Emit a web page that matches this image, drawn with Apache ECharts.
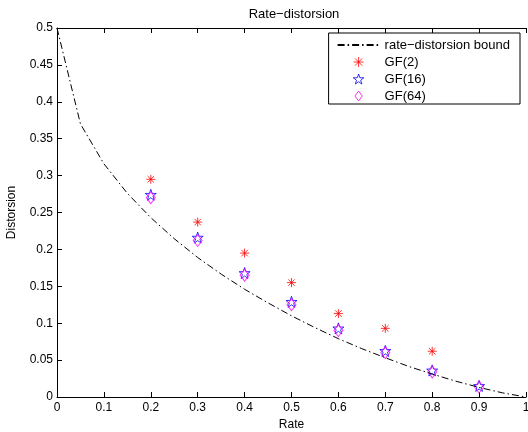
<!DOCTYPE html>
<html>
<head>
<meta charset="utf-8">
<script src="https://cdn.jsdelivr.net/npm/echarts@6/dist/echarts.min.js"></script>
<style>
html,body{margin:0;padding:0;background:#fff;}
#main{width:528px;height:432px;}
</style>
</head>
<body>
<div id="main"></div>
<script>
// rate-distorsion bound
var boundRate = [0, 0.05, 0.1, 0.15, 0.2, 0.25, 0.3, 0.35, 0.4, 0.45, 0.5, 0.55, 0.6, 0.65, 0.7, 0.75, 0.8, 0.85, 0.9, 0.95, 1];
var boundDist = [0.5, 0.37, 0.316, 0.276, 0.243, 0.2145, 0.189, 0.1665, 0.146, 0.1275, 0.11, 0.094, 0.079, 0.0655, 0.0532, 0.0414, 0.0311, 0.0215, 0.013, 0.0056, 0];

var gf2Rate = [0.2, 0.3, 0.4, 0.5, 0.6, 0.7, 0.8];
var gf2Dist = [0.295, 0.237, 0.195, 0.155, 0.113, 0.093, 0.062];
var gf16Rate = [0.2, 0.3, 0.4, 0.5, 0.6, 0.7, 0.8, 0.9];
var gf16Dist = [0.274, 0.216, 0.168, 0.129, 0.093, 0.0625, 0.036, 0.015];
var gf64Rate = [0.2, 0.3, 0.4, 0.5, 0.6, 0.7, 0.8, 0.9];
var gf64Dist = [0.270, 0.212, 0.165, 0.125, 0.090, 0.060, 0.034, 0.0135];

var xTicks = ['0', '0.1', '0.2', '0.3', '0.4', '0.5', '0.6', '0.7', '0.8', '0.9', '1'];
var yTicks = ['0', '0.05', '0.1', '0.15', '0.2', '0.25', '0.3', '0.35', '0.4', '0.45', '0.5'];

function pairs(xs, ys) {
    var out = [];
    for (var i = 0; i < xs.length; i++) {
        out.push([xs[i], ys[i]]);
    }
    return out;
}

var font = 'Liberation Sans, Arial, sans-serif';
var asterisk = 'path://M0,-5L0,5M-5,0L5,0M-3.6,-3.6L3.6,3.6M-3.6,3.6L3.6,-3.6';
var star = 'path://M0,-5L1.18,-1.62L4.76,-1.55L1.9,0.62L2.94,4.05L0,2L-2.94,4.05L-1.9,0.62L-4.76,-1.55L-1.18,-1.62Z';
var diamond = 'path://M0,-6L4.5,0L0,6L-4.5,0Z';

var myChart = echarts.init(document.getElementById('main'));
var axisTxt = {color: '#000', fontSize: 12, fontFamily: font};
var option = {
    backgroundColor: '#fff',
    animation: false,
    title: {
        text: 'Rate\u2212distorsion',
        left: 289,
        textAlign: 'center',
        top: 3,
        textStyle: {color: '#000', fontSize: 13, fontWeight: 'normal', fontFamily: font}
    },
    grid: {left: 57, right: 2, top: 28, bottom: 35, outerBoundsMode: 'none'},
    legend: {
        orient: 'vertical',
        right: 8,
        top: 33,
        itemWidth: 42,
        itemHeight: 10,
        itemGap: 3,
        symbolKeepAspect: true,
        padding: [5, 10, 1, 8],
        borderColor: '#000',
        borderWidth: 1,
        borderRadius: 0,
        backgroundColor: '#fff',
        textStyle: {color: '#000', fontSize: 13, lineHeight: 14, fontFamily: font},
        data: [
            {name: 'rate\u2212distorsion bound', itemStyle: {color: 'transparent', borderWidth: 0}},
            {name: 'GF(2)', itemStyle: {color: 'transparent', borderColor: '#ff0000', borderWidth: 1}},
            {name: 'GF(16)', itemStyle: {color: 'transparent', borderColor: '#0000ff', borderWidth: 1}},
            {name: 'GF(64)', itemStyle: {color: 'transparent', borderColor: '#ff00ff', borderWidth: 1}}
        ]
    },
    xAxis: [{
        type: 'value',
        min: 0, max: 1, interval: 0.1,
        name: 'Rate',
        nameLocation: 'middle',
        nameGap: 12,
        nameTextStyle: axisTxt,
        axisLine: {lineStyle: {color: '#000', width: 1}},
        axisTick: {inside: true, length: 5, lineStyle: {color: '#000'}},
        axisLabel: {
            color: '#000', fontSize: 12, fontFamily: font, margin: 5,
            formatter: function (v) { return xTicks[Math.round(v * 10)]; }
        },
        splitLine: {show: false}
    }, {
        type: 'value',
        position: 'top',
        min: 0, max: 1, interval: 0.1,
        axisLine: {lineStyle: {color: '#000', width: 1}},
        axisTick: {inside: true, length: 5, lineStyle: {color: '#000'}},
        axisLabel: {show: false},
        splitLine: {show: false}
    }],
    yAxis: {
        type: 'value',
        min: 0, max: 0.5, interval: 0.05,
        name: 'Distorsion',
        nameLocation: 'middle',
        nameGap: 39,
        nameRotate: 90,
        nameTextStyle: axisTxt,
        axisLine: {show: true, lineStyle: {color: '#000', width: 1}},
        axisTick: {show: true, inside: true, length: 5, lineStyle: {color: '#000'}},
        axisLabel: {
            color: '#000', fontSize: 12, fontFamily: font, margin: 4,
            formatter: function (v) { return yTicks[Math.round(v * 20)]; }
        },
        splitLine: {show: false}
    },
    series: [{
        name: 'rate\u2212distorsion bound',
        type: 'line',
        data: pairs(boundRate, boundDist),
        showSymbol: false,
        symbol: 'none',
        color: '#000',
        lineStyle: {color: '#000', width: 1, type: [7, 3, 1.5, 3]}
    }, {
        name: 'GF(2)',
        type: 'scatter',
        data: pairs(gf2Rate, gf2Dist),
        symbol: asterisk,
        symbolSize: 9,
        itemStyle: {color: 'none', borderColor: '#ff0000', borderWidth: 1}
    }, {
        name: 'GF(16)',
        type: 'scatter',
        data: pairs(gf16Rate, gf16Dist),
        symbol: star,
        symbolSize: 11,
        itemStyle: {color: 'none', borderColor: '#0000ff', borderWidth: 1}
    }, {
        name: 'GF(64)',
        type: 'scatter',
        data: pairs(gf64Rate, gf64Dist),
        symbol: diamond,
        symbolSize: [9, 12],
        itemStyle: {color: 'none', borderColor: '#ff00ff', borderWidth: 1}
    }]
};
myChart.setOption(option);
</script>
</body>
</html>
